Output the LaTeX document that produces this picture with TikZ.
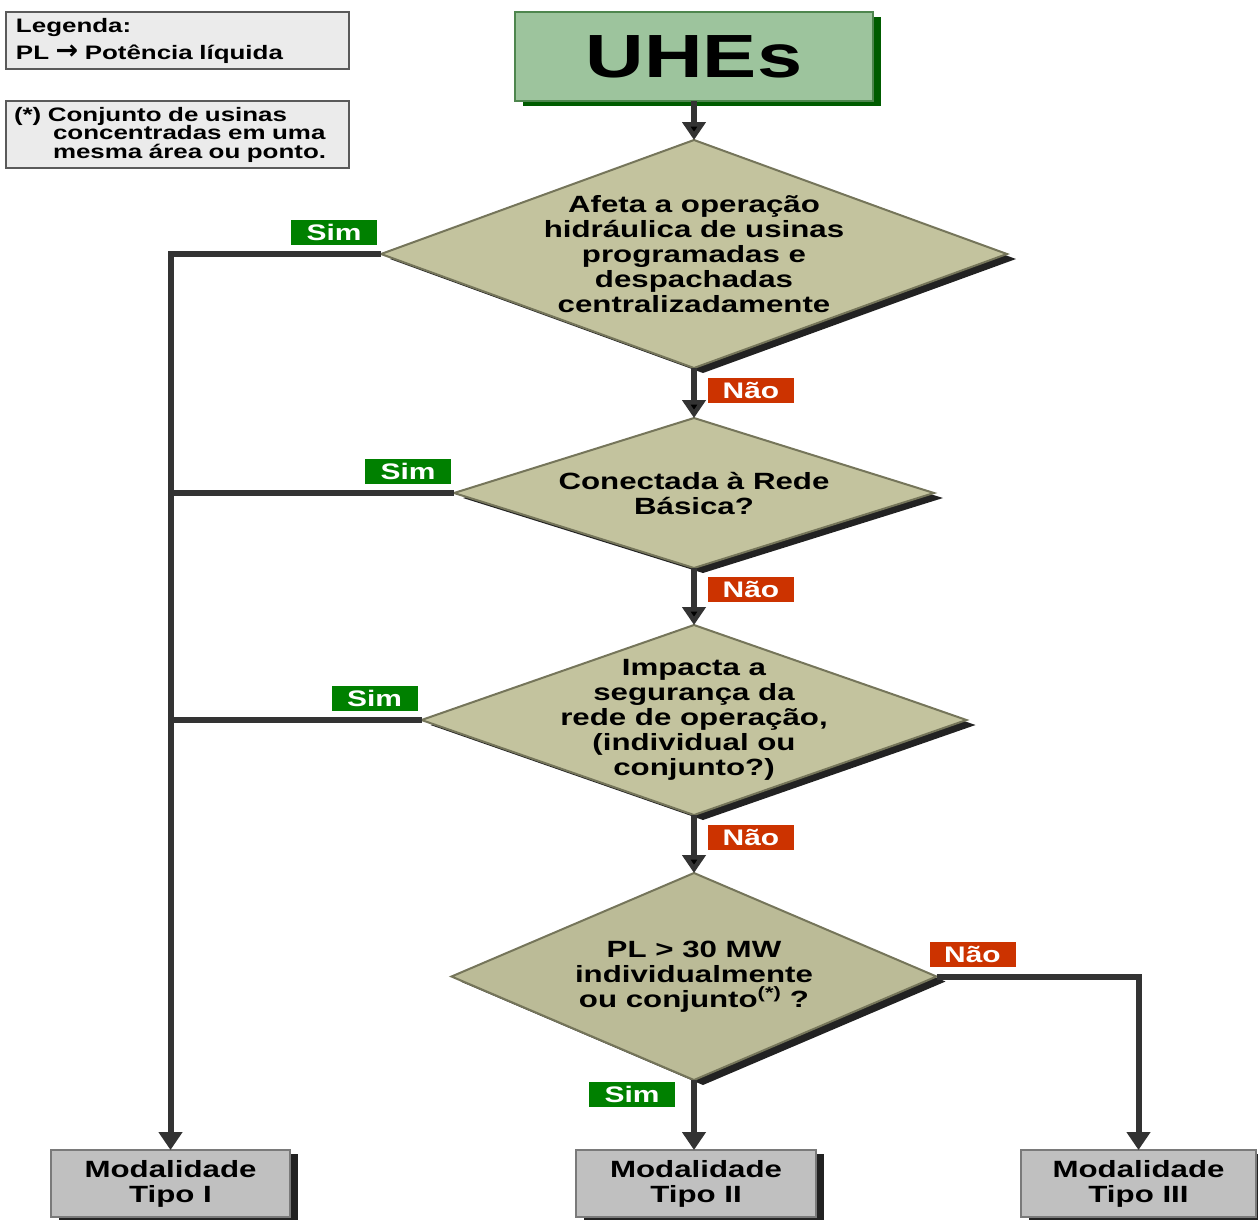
\documentclass[tikz,border=0pt]{standalone}
\usepackage{fontspec}
\setmainfont{Liberation Sans}[FakeStretch=1.33]
\newfontfamily\arrowfont{DejaVu Sans}
\usetikzlibrary{arrows.meta,shapes.geometric,shadows,positioning}

\definecolor{uhefill}{HTML}{9DC49D}
\definecolor{uhedraw}{HTML}{4E864E}
\definecolor{uheshadow}{HTML}{005C00}
\definecolor{dfill}{HTML}{C3C39E}
\definecolor{dfilldark}{HTML}{BBBB97}
\definecolor{ddraw}{HTML}{75755A}
\definecolor{boxfill}{HTML}{C0C0C0}
\definecolor{boxdraw}{HTML}{7A7A7A}
\definecolor{legfill}{HTML}{EBEBEB}
\definecolor{legdraw}{HTML}{5A5A5A}
\definecolor{simgreen}{HTML}{008000}
\definecolor{naored}{HTML}{CC3300}
\definecolor{linegray}{HTML}{333333}
\definecolor{shadowgray}{HTML}{222222}

\newcommand{\qfont}{\bfseries\fontsize{23.5}{25}\selectfont}
\newcommand{\lblfont}{\bfseries\fontsize{22.5}{25}\selectfont}

\begin{document}
\begin{tikzpicture}[x=1pt,y=-1pt,->,>={Triangle[width=23pt,length=18pt]},
        link/.style={line width=6pt,draw=linegray},
        legbox/.style={draw=legdraw,fill=legfill,line width=1.8pt,anchor=north west,
          minimum width=343pt,align=left,outer sep=0pt},
        uhebox/.style={draw=uhedraw,fill=uhefill,line width=2pt,minimum width=358pt,
          minimum height=89pt,outer sep=0pt,font=\bfseries\fontsize{61}{61}\selectfont,
          drop shadow={shadow xshift=8pt,shadow yshift=-5pt,opacity=1,fill=uheshadow}},
        decision/.style={diamond,draw=ddraw,fill=dfill,line width=2pt,inner sep=0pt,outer sep=0pt,
          drop shadow={shadow xshift=9pt,shadow yshift=-5pt,opacity=1,fill=shadowgray}},
        qtext/.style={align=center,font=\qfont},
        modbox/.style={draw=boxdraw,fill=boxfill,line width=2pt,minimum height=67pt,
          align=center,outer sep=0pt,font=\qfont,
          drop shadow={shadow xshift=8pt,shadow yshift=-4pt,opacity=1,fill=shadowgray}},
        sim/.style={fill=simgreen,text=white,font=\lblfont,minimum width=86pt,
          minimum height=25pt,inner sep=0pt,outer sep=0pt},
        nao/.style={sim,fill=naored}]
        \useasboundingbox (0,0) rectangle (1258,1219);

        \node[legbox,minimum height=57pt,text width=323pt,inner xsep=10pt,
          font=\bfseries\fontsize{19.5}{27}\selectfont] (leg1) at (6,12)
          {Legenda:\\PL {\arrowfont\fontsize{27}{27}\selectfont →} Potência líquida};
        \node[legbox,minimum height=67pt,text width=327pt,inner xsep=8pt,
          font=\bfseries\fontsize{19.5}{18.5}\selectfont] (leg2) at (6,101)
          {(*) Conjunto de usinas\\\hspace*{39pt}concentradas em uma\\\hspace*{39pt}mesma área ou ponto.};

        \node[uhebox] (uhe) at (694,56.5) {UHEs};
        \node[decision,minimum width=626pt,minimum height=228pt] (d1) [below=39pt of uhe] {};
        \node[decision,minimum width=480pt,minimum height=150pt] (d2) [below=50pt of d1] {};
        \node[decision,minimum width=545pt,minimum height=190pt] (d3) [below=57pt of d2] {};
        \node[decision,fill=dfilldark,minimum width=485pt,minimum height=207pt] (d4) [below=58pt of d3] {};
        \node[modbox,minimum width=240pt] (m2) [below=70pt of d4,xshift=2pt] {Modalidade\\Tipo II};
        \node[modbox,minimum width=239pt] (m1) [left=286pt of m2] {Modalidade\\Tipo I};
        \node[modbox,minimum width=235pt] (m3) [right=205pt of m2] {Modalidade\\Tipo III};

        \node[qtext] (t1) at (d1) {Afeta a operação\\hidráulica de usinas\\programadas e\\despachadas\\centralizadamente};
        \node[qtext] (t2) at (d2) {Conectada à Rede\\Básica?};
        \node[qtext] (t3) at (d3) {Impacta a\\segurança da\\rede de operação,\\(individual ou\\conjunto?)};
        \node[qtext] (t4) at (d4) {PL > 30 MW\\individualmente\\ou conjunto\textsuperscript{(*)} ?};

        \path[link]
          (uhe) edge (d1)
          (d1) edge node[nao,at start,below right=10pt and 14pt] {Não} (d2)
          (d2) edge node[nao,at start,below right=9pt and 14pt] {Não} (d3)
          (d3) edge node[nao,at start,below right=10pt and 14pt] {Não} (d4)
          ;
        \draw[link] (d4.south) -- node[sim,at start,below left=2pt and 19pt] {Sim} (d4.south |- m2.north);
        \draw[link] (d1.west) -| node[sim,at start,above left=9pt and 4pt] {Sim} (m1.north);
        \draw[link,-] (d2.west) -- node[sim,at start,above left=9pt and 3pt] {Sim} (d2.west -| m1.north);
        \draw[link,-] (d3.west) -- node[sim,at start,above left=9pt and 4pt] {Sim} (d3.west -| m1.north);
        \draw[link] (d4.east) -| node[nao,at start,above right=10pt and -7pt] {Não} (m3.north);
      \end{tikzpicture}
\end{document}
